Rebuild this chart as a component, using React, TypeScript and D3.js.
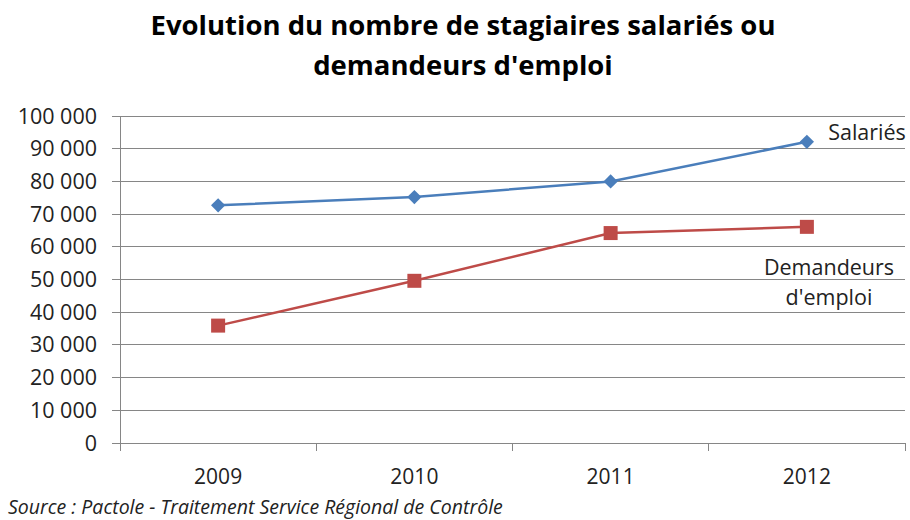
import React from 'react';
import * as d3 from 'd3';

const years = ['2009', '2010', '2011', '2012'];
const salaries = [72700, 75200, 80000, 92100];
const demandeurs = [35900, 49600, 64200, 66100];
const yTickValues = [0, 10000, 20000, 30000, 40000, 50000, 60000, 70000, 80000, 90000, 100000];

const width = 910;
const height = 520;
const plotLeft = 120;
const plotRight = 905;
const plotTop = 116;
const plotBottom = 443;
const font = "'Open Sans', 'Noto Sans', sans-serif";
const gridColor = '#868686';
const blue = '#4A7EBB';
const red = '#BE4B48';

const fmt = (v: number) => d3.format(',')(v).replace(/,/g, ' ');

const App: React.FC = () => {
  const xScale = d3.scaleBand<string>().domain(years).range([plotLeft, plotRight]);
  const yScale = d3.scaleLinear().domain([0, 100000]).range([plotBottom, plotTop]);
  const cx = (y: string) => (xScale(y) as number) + xScale.bandwidth() / 2;

  const line = d3.line<number>().x((_, i) => cx(years[i])).y(d => yScale(d));
  // square rotated 45deg, as in the Excel diamond marker
  const diamond = d3.symbol().type(d3.symbolDiamond2).size(130)();

  return (
    <svg width={width} height={height} style={{display: 'block', position: 'absolute', left: 0, top: 0, background: 'white'}}>
      <text x={463} y={35} textAnchor="middle" fontFamily={font} fontWeight="bold" fontSize={27.5} fill="#000">
        Evolution du nombre de stagiaires salariés ou
      </text>
      <text x={463} y={75} textAnchor="middle" fontFamily={font} fontWeight="bold" fontSize={27.5} fill="#000">
        demandeurs d'emploi
      </text>

      {/* gridlines + y ticks */}
      {yTickValues.map(v => (
        <g key={v} transform={`translate(0, ${yScale(v)})`}>
          <line x1={plotLeft - 8} x2={plotRight} stroke={gridColor} strokeWidth={1} shapeRendering="crispEdges"/>
          <text x={97} dy="0.35em" textAnchor="end" fontFamily={font} fontSize={21.5} fill="#222">{fmt(v)}</text>
        </g>
      ))}
      <line x1={plotLeft} x2={plotLeft} y1={plotTop} y2={plotBottom + 6} stroke={gridColor} shapeRendering="crispEdges"/>

      {/* x ticks between categories */}
      {[...years.map(y => xScale(y) as number), plotRight].map((x, i) => (
        <line key={i} x1={x} x2={x} y1={plotBottom} y2={plotBottom + 8} stroke={gridColor} shapeRendering="crispEdges"/>
      ))}
      {years.map(y => (
        <text key={y} x={cx(y)} y={484} textAnchor="middle" fontFamily={font} fontSize={21} fill="#222">{y}</text>
      ))}

      <path d={line(salaries) as string} fill="none" stroke={blue} strokeWidth={2.5}/>
      <path d={line(demandeurs) as string} fill="none" stroke={red} strokeWidth={2.5}/>
      {salaries.map((v, i) => (
        <path key={i} d={diamond as string} transform={`translate(${cx(years[i])}, ${yScale(v)})`} fill={blue}/>
      ))}
      {demandeurs.map((v, i) => (
        <rect key={i} x={cx(years[i]) - 7} y={yScale(v) - 7} width={14} height={14} fill={red}/>
      ))}

      <text x={867} y={132} dy="0.35em" textAnchor="middle" fontFamily={font} fontSize={21.5} fill="#222">Salariés</text>
      <text x={829} y={267} dy="0.35em" textAnchor="middle" fontFamily={font} fontSize={21.5} fill="#222">Demandeurs</text>
      <text x={829} y={297} dy="0.35em" textAnchor="middle" fontFamily={font} fontSize={21.5} fill="#222">d'emploi</text>

      <text x={8} y={514} fontFamily={font} fontStyle="italic" fontSize={19.5} fill="#222">
        Source : Pactole - Traitement Service Régional de Contrôle
      </text>
    </svg>
  );
};

export default App;
